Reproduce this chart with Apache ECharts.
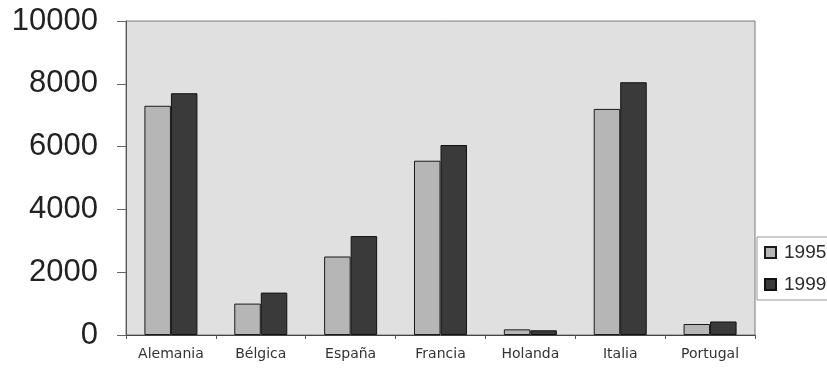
<!DOCTYPE html>
<html>
<head>
<meta charset="utf-8">
<script src="https://cdn.jsdelivr.net/npm/echarts@6/dist/echarts.min.js"></script>
<style>
  html, body { margin: 0; padding: 0; background: #ffffff; }
  #chart { width: 827px; height: 373px; }
</style>
</head>
<body>
<div id="chart"></div>
<script>
// Countries on the category axis
const paises = ['Alemania', 'Bélgica', 'España', 'Francia', 'Holanda', 'Italia', 'Portugal'];
// Values per year
const valores1995 = [7300, 1000, 2500, 5550, 180, 7200, 350];
const valores1999 = [7700, 1350, 3150, 6050, 150, 8050, 430];
// Value axis range
const ejeMin = 0;
const ejeMax = 10000;
const ejeIntervalo = 2000;

const chart = echarts.init(document.getElementById('chart'), null, { renderer: 'canvas' });

chart.setOption({
  animation: false,
  backgroundColor: '#ffffff',
  grid: {
    left: 126, right: 72, top: 21, bottom: 38,
    show: true,
    backgroundColor: '#e0e0e0',
    borderColor: '#7a7a7a',
    borderWidth: 1
  },
  legend: {
    orient: 'vertical',
    left: 757,
    top: 237,
    padding: [6, 40, 6, 7],
    itemWidth: 11,
    itemHeight: 11,
    itemGap: 13,
    icon: 'rect',
    backgroundColor: '#ffffff',
    borderColor: '#9a9a9a',
    borderWidth: 1,
    textStyle: { fontFamily: 'Liberation Sans', fontSize: 19, color: '#2a2a2a', padding: [0, 0, 0, 3] },
    data: ['1995', '1999']
  },
  xAxis: {
    type: 'category',
    data: paises,
    axisLine: { lineStyle: { color: '#444', width: 1 } },
    axisTick: { show: true, length: 4, lineStyle: { color: '#555' } },
    axisLabel: { fontFamily: 'DejaVu Sans', fontSize: 14, color: '#333', margin: 12 },
    splitLine: { show: false }
  },
  yAxis: {
    type: 'value',
    min: ejeMin,
    max: ejeMax,
    interval: ejeIntervalo,
    axisLine: { show: true, lineStyle: { color: '#555', width: 1 } },
    axisTick: { show: true, length: 9, lineStyle: { color: '#666' } },
    axisLabel: {
      fontFamily: 'Liberation Sans', fontSize: 31, color: '#222', margin: 28,
      formatter: function (v) { return String(v); }
    },
    splitLine: { show: false }
  },
  series: [
    {
      name: '1995',
      type: 'bar',
      data: valores1995,
      barGap: '0%',
      barCategoryGap: '41%',
      itemStyle: { color: '#b6b6b6', borderColor: '#1a1a1a', borderWidth: 1 }
    },
    {
      name: '1999',
      type: 'bar',
      data: valores1999,
      barGap: '0%',
      barCategoryGap: '41%',
      itemStyle: { color: '#3a3a3a', borderColor: '#111', borderWidth: 1 }
    }
  ]
});
</script>
</body>
</html>
